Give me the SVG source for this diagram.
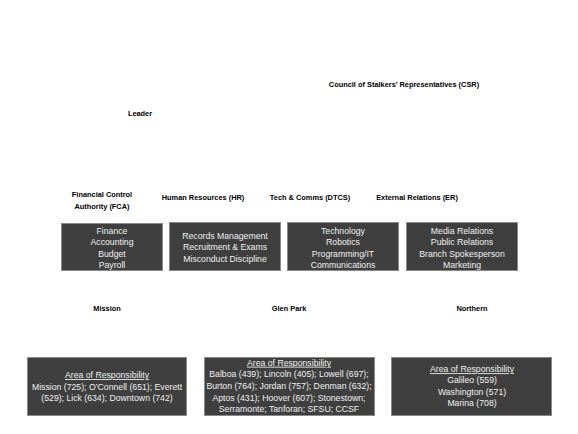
<svg xmlns="http://www.w3.org/2000/svg" width="578" height="434" viewBox="0 0 578 434">
<style>
.t{font-family:"Liberation Sans",Arial,sans-serif;font-weight:bold;font-size:7.4px;fill:#000;text-anchor:middle}
.b{fill:#3f3f3f;stroke:#8a8a8a;stroke-width:1}
.w{font-family:"Liberation Sans",Arial,sans-serif;font-size:8.7px;fill:#f0f0f0;text-anchor:middle}
.u{text-decoration:underline}
</style>
<rect width="578" height="434" fill="#fff"/>
<g id="csr"><text class="t" x="404" y="87">Council of Stalkers’ Representatives (CSR)</text></g>
<g id="leader"><text class="t" x="140" y="116">Leader</text></g>
<g id="fca">
<text class="t" x="102" y="197">Financial Control</text>
<text class="t" x="102" y="209">Authority (FCA)</text>
<rect class="b" x="61.5" y="223.5" width="101" height="47"/>
<text class="w" x="112" y="233.7">Finance</text>
<text class="w" x="112" y="245.2">Accounting</text>
<text class="w" x="112" y="256.7">Budget</text>
<text class="w" x="112" y="268.2">Payroll</text>
</g>
<g id="hr">
<text class="t" x="203" y="200">Human Resources (HR)</text>
<rect class="b" x="169.5" y="222.5" width="111" height="48"/>
<text class="w" x="225" y="238.7">Records Management</text>
<text class="w" x="225" y="250.2">Recruitment &amp; Exams</text>
<text class="w" x="225" y="261.7">Misconduct Discipline</text>
</g>
<g id="dtcs">
<text class="t" x="310" y="200">Tech &amp; Comms (DTCS)</text>
<rect class="b" x="287.5" y="222.5" width="111" height="48"/>
<text class="w" x="343" y="233.7">Technology</text>
<text class="w" x="343" y="245.2">Robotics</text>
<text class="w" x="343" y="256.7">Programming/IT</text>
<text class="w" x="343" y="268.2">Communications</text>
</g>
<g id="er">
<text class="t" x="417" y="200">External Relations (ER)</text>
<rect class="b" x="406.5" y="222.5" width="111" height="48"/>
<text class="w" x="462" y="233.7">Media Relations</text>
<text class="w" x="462" y="245.2">Public Relations</text>
<text class="w" x="462" y="256.7">Branch Spokesperson</text>
<text class="w" x="462" y="268.2">Marketing</text>
</g>
<g id="mission">
<text class="t" x="107" y="311">Mission</text>
<rect class="b" x="27.5" y="357.5" width="159" height="58"/>
<text class="w u" x="107" y="378">Area of Responsibility</text>
<text class="w" x="107" y="389.6">Mission (725); O’Connell (651); Everett</text>
<text class="w" x="107" y="401.2">(529); Lick (634); Downtown (742)</text>
</g>
<g id="glenpark">
<text class="t" x="289" y="311">Glen Park</text>
<rect class="b" x="204.5" y="357.5" width="170" height="58"/>
<text class="w u" x="289" y="365.7">Area of Responsibility</text>
<text class="w" x="289" y="377.3">Balboa (439); Lincoln (405); Lowell (697);</text>
<text class="w" x="289" y="388.9">Burton (764); Jordan (757); Denman (632);</text>
<text class="w" x="289" y="400.5">Aptos (431); Hoover (607); Stonestown;</text>
<text class="w" x="289" y="412.1">Serramonte; Tanforan; SFSU; CCSF</text>
</g>
<g id="northern">
<text class="t" x="472" y="311">Northern</text>
<rect class="b" x="391.5" y="357.5" width="160" height="58"/>
<text class="w u" x="472" y="372.2">Area of Responsibility</text>
<text class="w" x="472" y="383.3">Galileo (559)</text>
<text class="w" x="472" y="394.6">Washington (571)</text>
<text class="w" x="472" y="406.2">Marina (708)</text>
</g>
<g id="connectors"></g>
</svg>
